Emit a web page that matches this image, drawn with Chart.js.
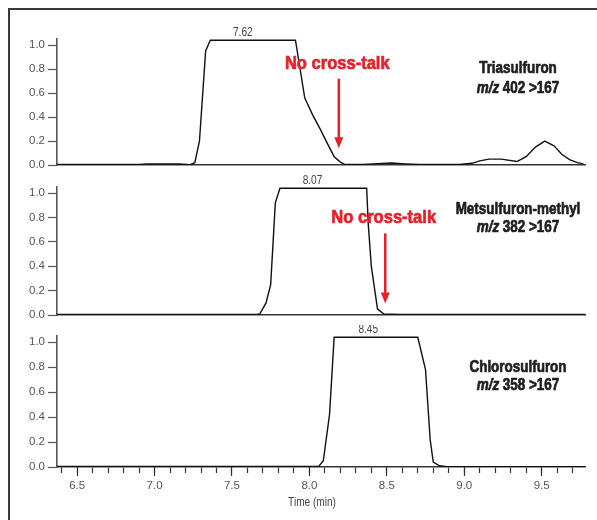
<!DOCTYPE html>
<html>
<head>
<meta charset="utf-8">
<script src="https://cdn.jsdelivr.net/npm/chart.js@4/dist/chart.umd.min.js"></script>
<style>
  body { margin: 0; background: #fff; }
  #wrap { position: relative; width: 597px; height: 520px; overflow: hidden; }
  #frame { position: absolute; left: 8px; top: 8px; width: 700px; height: 700px;
           border-top: 2px solid #3a3a3a; border-left: 2px solid #3a3a3a; }
  canvas { position: absolute; left: 0; }
</style>
</head>
<body>
<div id="wrap">
  <div id="frame"></div>
  <canvas id="c1" width="597" height="175" style="top:0"></canvas>
  <canvas id="c2" width="597" height="150" style="top:175px"></canvas>
  <canvas id="c3" width="597" height="195" style="top:325px"></canvas>
</div>
<script>
// x range and ticks (min)
const xMin = 6.37, xMax = 9.78;
const minorTicks = [6.4, 6.5, 6.6, 6.7, 6.8, 6.9, 7.0, 7.1, 7.2, 7.3, 7.4, 7.5, 7.6, 7.7, 7.8, 7.9,
  8.0, 8.1, 8.2, 8.3, 8.4, 8.5, 8.6, 8.7, 8.8, 8.9, 9.0, 9.1, 9.2, 9.3, 9.4, 9.5, 9.6, 9.7];
const majorTicks = [6.5, 7.0, 7.5, 8.0, 8.5, 9.0, 9.5];
const yTicks = [0, 0.2, 0.4, 0.6, 0.8, 1.0];

// Triasulfuron m/z 402 >167
const triaTime = [6.37, 6.90, 6.95, 7.16, 7.23, 7.26, 7.29, 7.33, 7.36, 7.91, 7.97, 8.02, 8.07, 8.12, 8.16, 8.20, 8.23,
  8.35, 8.44, 8.53, 8.62, 8.71, 8.97, 9.05, 9.10, 9.16, 9.24, 9.34, 9.40, 9.46, 9.52, 9.58, 9.63, 9.68, 9.73, 9.77];
const triaSignal = [0.005, 0.005, 0.009, 0.01, 0.004, 0.02, 0.2, 0.95, 1.04, 1.04, 0.56, 0.42, 0.3, 0.17, 0.07, 0.025, 0.005,
  0.005, 0.012, 0.017, 0.01, 0.005, 0.005, 0.015, 0.035, 0.05, 0.05, 0.03, 0.07, 0.15, 0.2, 0.16, 0.09, 0.045, 0.02, 0.01];

// Metsulfuron-methyl m/z 382 >167
const metTime = [6.37, 7.66, 7.68, 7.72, 7.75, 7.78, 7.81, 8.37, 8.38, 8.40, 8.44, 8.48, 8.58, 9.78];
const metSignal = [0.005, 0.005, 0.01, 0.1, 0.25, 0.92, 1.04, 1.04, 0.75, 0.4, 0.05, 0.01, 0.005, 0.005];

// Chlorosulfuron m/z 358 >167
const chloTime = [6.37, 8.06, 8.09, 8.13, 8.16, 8.70, 8.75, 8.78, 8.80, 8.84, 8.89, 9.78];
const chloSignal = [0.005, 0.005, 0.05, 0.42, 1.04, 1.04, 0.78, 0.22, 0.04, 0.01, 0.003, 0.003];

const peakLabels = ['7.62', '8.07', '8.45'];
const peakLabelTime = [7.57, 8.02, 8.38];
const compounds = ['Triasulfuron', 'Metsulfuron-methyl', 'Chlorosulfuron'];
const transitions = [' 402 >167', ' 382 >167', ' 358 >167'];

const FONT = "'Liberation Sans', Arial, sans-serif";
const RED = '#e8202a';
const SX = 0.84; // condensed look for the drawn labels

function squeezed(ctx, text, x, y, align, heavy, sx) {
  ctx.save();
  ctx.translate(x, y);
  ctx.scale(sx || SX, 1);
  ctx.textAlign = align;
  if (heavy) {
    ctx.lineWidth = 0.7;
    ctx.lineJoin = 'round';
    ctx.strokeStyle = ctx.fillStyle;
    ctx.strokeText(text, 0, 0);
  }
  ctx.fillText(text, 0, 0);
  ctx.restore();
}

const notes = {
  id: 'notes',
  afterDatasetsDraw(chart, args, o) {
    const {ctx, scales: {x, y}} = chart;
    ctx.save();
    ctx.textBaseline = 'middle';
    // peak retention time
    ctx.fillStyle = '#444';
    ctx.font = '12px ' + FONT;
    squeezed(ctx, peakLabels[o.i], x.getPixelForValue(peakLabelTime[o.i]), y.getPixelForValue(1.04) - 8, 'center');

    // compound name and transition
    const cx = 518;
    ctx.fillStyle = '#1e1e1e';
    ctx.font = 'bold 16px ' + FONT;
    squeezed(ctx, compounds[o.i], cx, y.getPixelForValue(o.nameY), 'center', true);
    const it = 'italic bold 16px ' + FONT, bd = 'bold 16px ' + FONT;
    ctx.font = it; const w1 = ctx.measureText('m/z').width * SX;
    ctx.font = bd; const w2 = ctx.measureText(transitions[o.i]).width * SX;
    const x0 = cx - (w1 + w2) / 2, ty = y.getPixelForValue(o.mzY);
    ctx.font = it; squeezed(ctx, 'm/z', x0, ty, 'left', true);
    ctx.font = bd; squeezed(ctx, transitions[o.i], x0 + w1, ty, 'left', true);

    // "No cross-talk" arrow
    if (o.note) {
      ctx.fillStyle = RED;
      ctx.strokeStyle = RED;
      ctx.font = 'bold 19px ' + FONT;
      squeezed(ctx, 'No cross-talk', x.getPixelForValue(o.note.t), y.getPixelForValue(o.note.y), 'center', true, 0.87);
      const ax = x.getPixelForValue(o.note.at);
      const a0 = y.getPixelForValue(o.note.from), a1 = y.getPixelForValue(o.note.to);
      ctx.lineWidth = 2.5;
      ctx.beginPath(); ctx.moveTo(ax, a0); ctx.lineTo(ax, a1 - 9); ctx.stroke();
      ctx.beginPath(); ctx.moveTo(ax - 4.5, a1 - 11); ctx.lineTo(ax + 4.5, a1 - 11); ctx.lineTo(ax, a1); ctx.closePath(); ctx.fill();
    }

    // axis title
    if (o.bottom) {
      ctx.fillStyle = '#444';
      ctx.font = '12px ' + FONT;
      squeezed(ctx, 'Time (min)', 312, chart.chartArea.bottom + 36, 'center');
    }
    ctx.restore();
  }
};

function panel(id, time, signal, o) {
  const bottom = !!o.bottom;
  const isMajor = v => majorTicks.some(m => Math.abs(m - v) < 1e-6);
  const scales = {
    x: {
      type: 'linear', position: 'bottom', min: xMin, max: xMax,
      afterBuildTicks: s => { s.ticks = minorTicks.map(v => ({value: v})); },
      afterFit: s => { s.height = bottom ? 30 : 0; },
      border: {display: true, color: '#333', width: 1.6},
      grid: {display: true, drawOnChartArea: false, drawTicks: bottom, tickLength: 6, tickColor: '#333', tickWidth: 1.2},
      ticks: {display: bottom, autoSkip: false, maxRotation: 0, padding: 6, color: '#555',
        font: {family: FONT, size: 11.5}, callback: v => isMajor(v) ? v.toFixed(1) : ''}
    },
    y: {
      min: 0, max: 1.05,
      afterBuildTicks: s => { s.ticks = yTicks.map(v => ({value: v})); },
      afterFit: s => { s.width = 57; },
      border: {color: '#555', width: 1.6},
      grid: {drawOnChartArea: false, tickLength: 9, tickColor: '#555', tickWidth: 1.2},
      ticks: {padding: 3, color: '#555', font: {family: FONT, size: 11.5}, callback: v => v.toFixed(1)}
    }
  };
  if (bottom) {
    scales.xMajor = {
      type: 'linear', position: 'bottom', weight: -1, min: xMin, max: xMax,
      afterBuildTicks: s => { s.ticks = majorTicks.map(v => ({value: v})); },
      afterFit: s => { s.height = 0; },
      border: {display: false},
      grid: {drawOnChartArea: false, tickLength: 9, tickColor: '#333', tickWidth: 1.2},
      ticks: {display: false}
    };
  }
  return new Chart(document.getElementById(id), {
    type: 'line',
    data: {
      datasets: [{
        data: time.map((t, k) => ({x: t, y: signal[k]})),
        borderColor: '#111', borderWidth: 1.4, pointRadius: 0, tension: 0, fill: false
      }]
    },
    options: {
      responsive: false, animation: false,
      layout: {padding: o.padding},
      scales,
      plugins: {legend: {display: false}, tooltip: {enabled: false}, notes: o}
    },
    plugins: [notes]
  });
}

panel('c1', triaTime, triaSignal, {i: 0, nameY: 0.8, mzY: 0.64,
  note: {t: 8.18, y: 0.84, at: 8.19, from: 0.72, to: 0.14},
  padding: {top: 39, right: 12, bottom: 5, left: 0}});
panel('c2', metTime, metSignal, {i: 1, nameY: 0.865, mzY: 0.72,
  note: {t: 8.48, y: 0.80, at: 8.49, from: 0.67, to: 0.095},
  padding: {top: 12, right: 12, bottom: 6, left: 0}});
panel('c3', chloTime, chloSignal, {i: 2, nameY: 0.8, mzY: 0.656, bottom: true,
  padding: {top: 11, right: 12, bottom: 23, left: 0}});
</script>
</body>
</html>
